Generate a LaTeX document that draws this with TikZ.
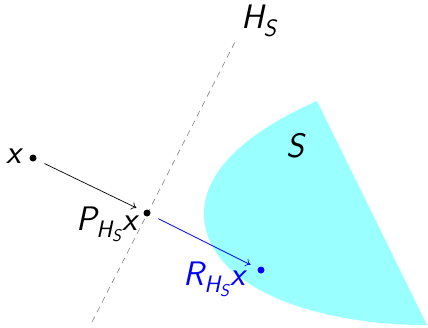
\documentclass[tikz,border=0pt]{standalone}
\usepackage{fontspec}
\usepackage{amsmath}
\usetikzlibrary{arrows.meta}
\newcommand\mv[1]{\text{\sffamily\itshape #1}}
\definecolor{sreg}{RGB}{153,255,255}
\tikzset{
  lbl/.style={inner sep=0pt,font=\fontsize{34}{40}\selectfont},
  dot/.style={circle,fill,inner sep=0pt,minimum size=7pt},
  proj/.style={line width=0.7pt,-{To[length=5pt,width=8pt]},shorten <=9pt,shorten >=8pt},
}
\begin{document}
\begin{tikzpicture}[x=1pt,y=-1pt]
\useasboundingbox (0,0) rectangle (428,327);
\fill[sreg] (317,101) .. controls (240,135) and (203,175) .. (204,215)
  .. controls (206,285) and (310,325) .. (427,325) -- cycle;
\coordinate (h1) at (92,322);
\coordinate (h2) at (236,40);
\draw[gray,line width=0.6pt,dash pattern=on 6pt off 5pt] (h1) -- (h2);
\node[lbl,anchor=base west] (hs) at (241,28) {$\mv{H}_{\mv{S}}$};
\node[lbl,anchor=base west] (s) at (286,157) {$\mv{S}$};
\node[dot] (x) at (33,158) {};
\node[lbl,anchor=base east] (xl) at (21,163) {$\mv{x}$};
\node[dot] (p) at (147,213) {};
\node[lbl,anchor=base east] (pl) at (137,230) {$\mv{P}_{\mv{H}_{\mv{S}}}\mv{x}$};
\node[dot,blue] (r) at (261,270) {};
\node[lbl,blue,anchor=base east] (rl) at (245,285) {$\mv{R}_{\mv{H}_{\mv{S}}}\mv{x}$};
\draw[proj] (x) -- (p);
\draw[proj,blue] (p) -- (r);
\end{tikzpicture}
\end{document}
